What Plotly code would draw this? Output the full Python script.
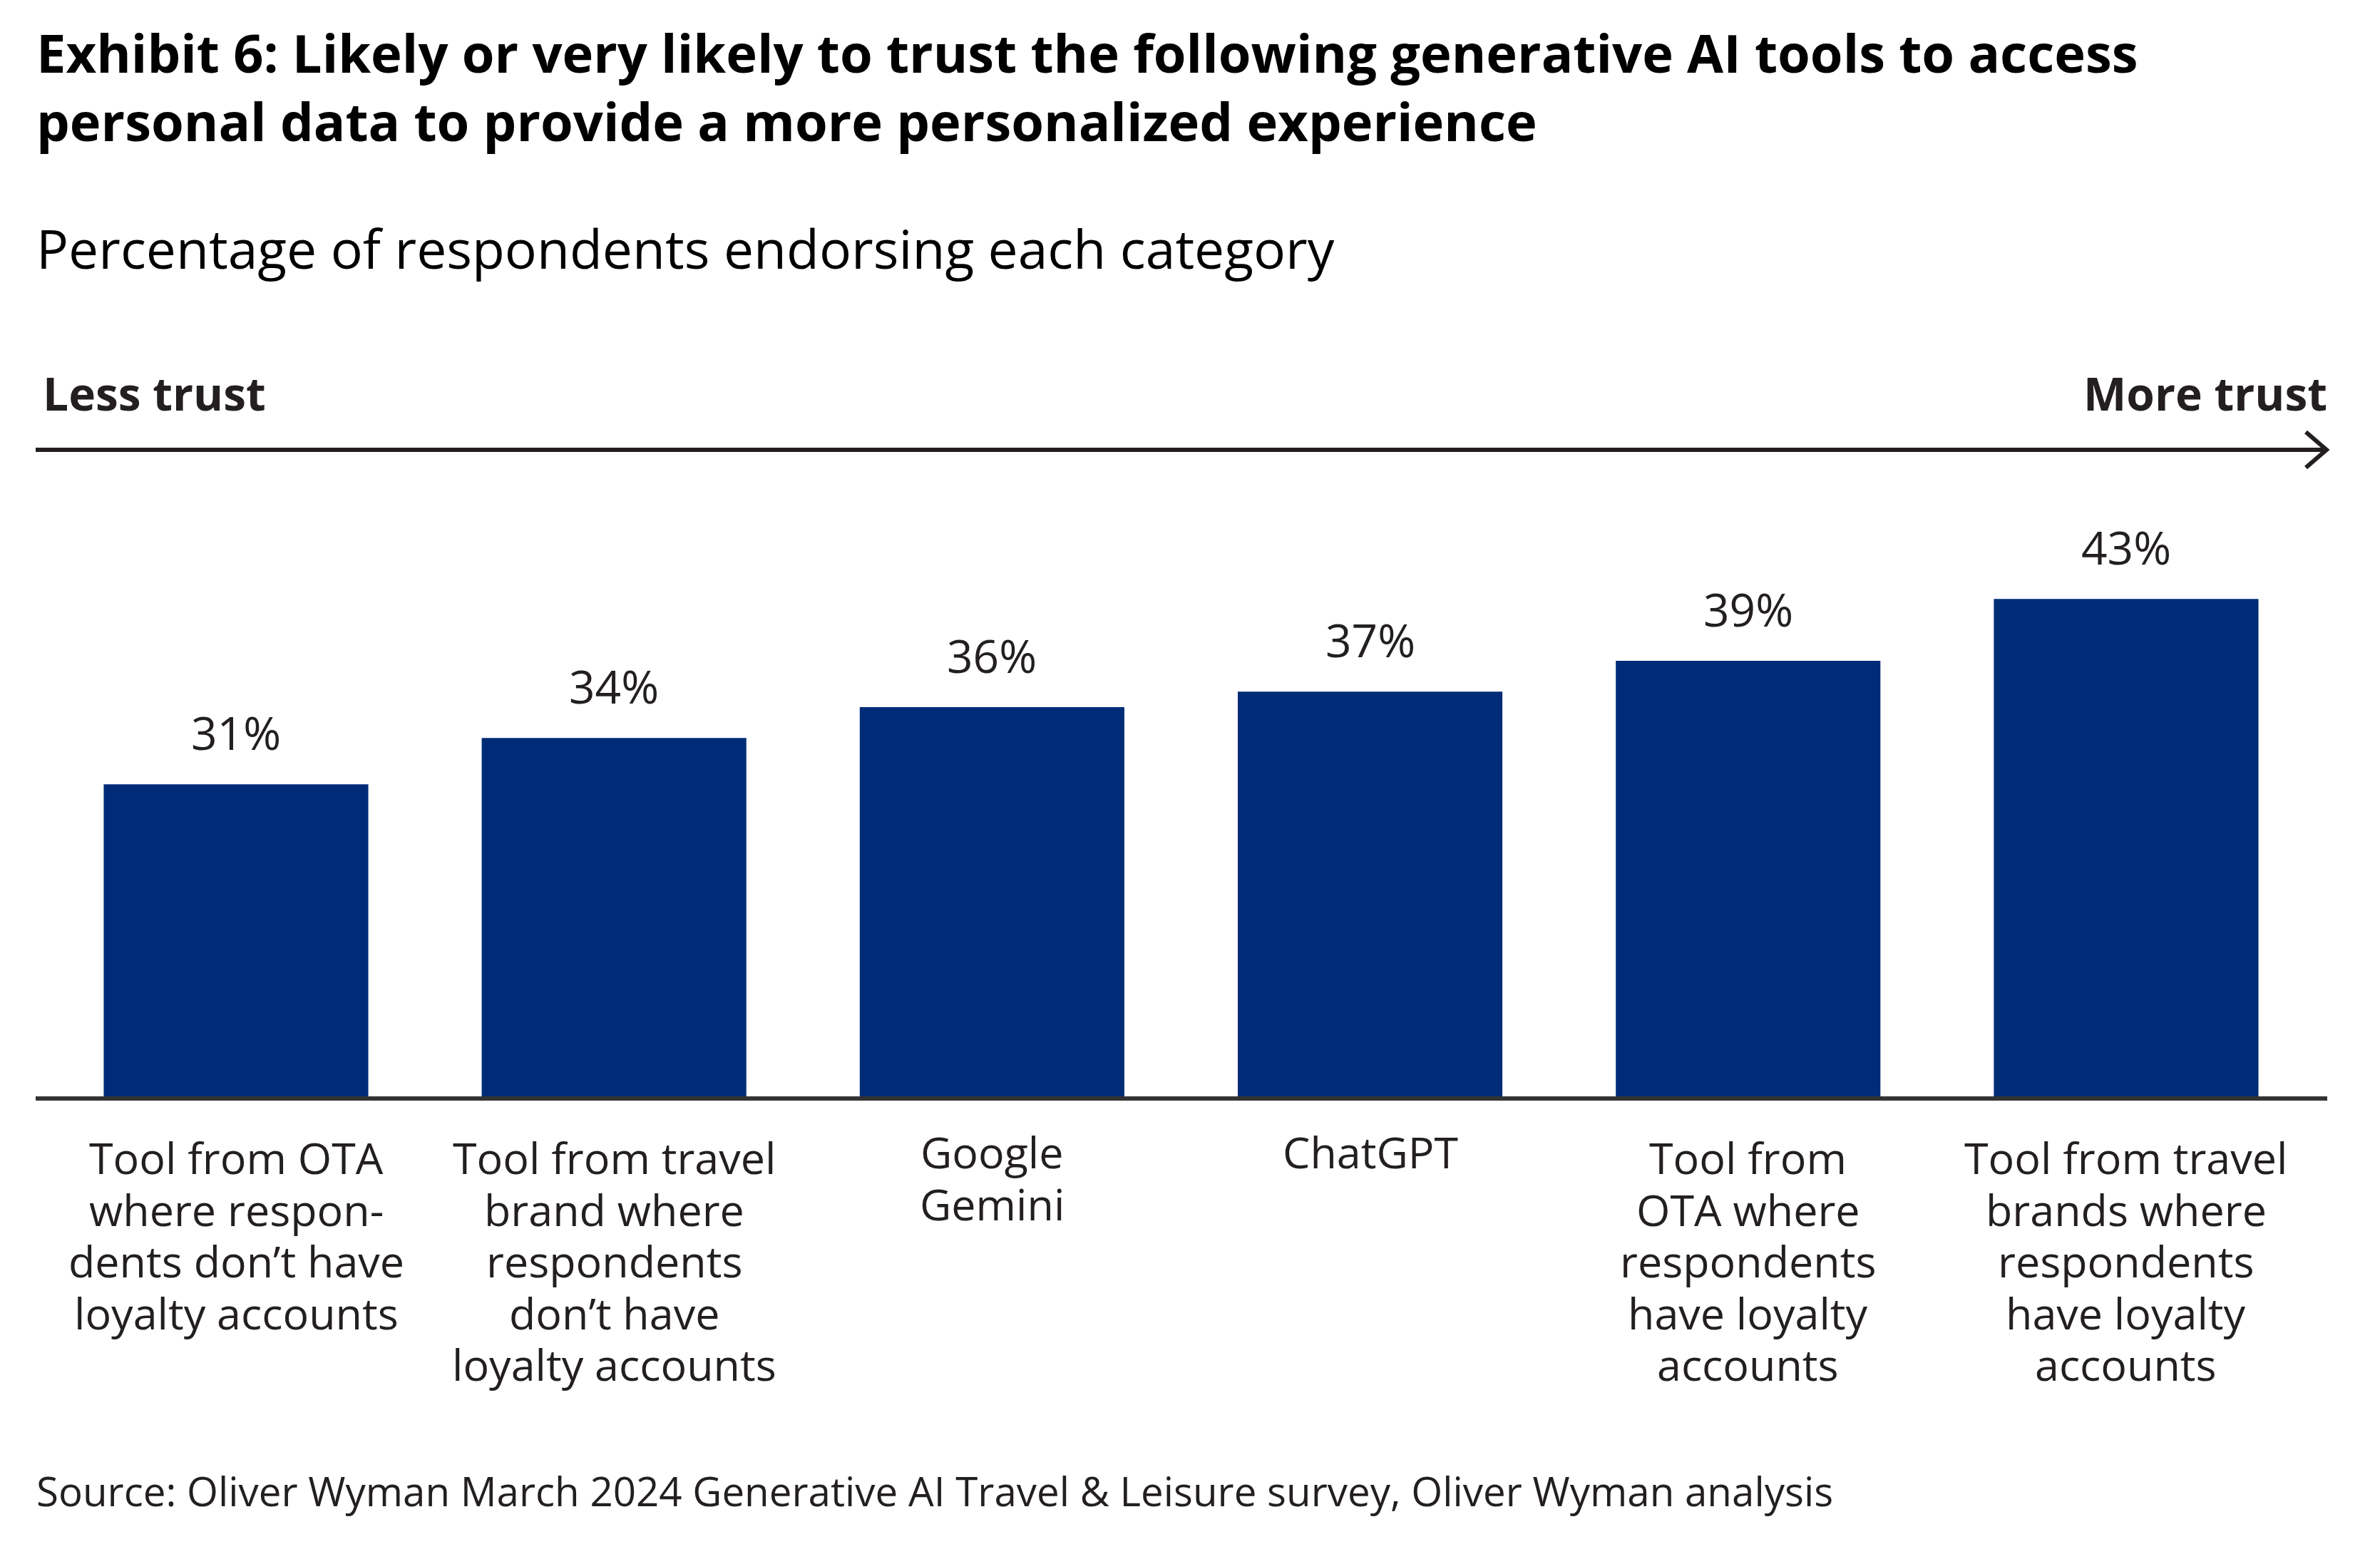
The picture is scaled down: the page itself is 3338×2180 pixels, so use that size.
import plotly.graph_objects as go

# page and plot-area geometry (pixels); the page body adds an 8px margin
OFF = 8
W, H = 3338, 2180
L, T = 50 - OFF, 700 - OFF
plot_w, plot_h = 3214, 838
R = W - L - plot_w
B = H - T - plot_h


def px(x):
    return (x - OFF - L) / plot_w


def py(y):
    return (T + plot_h - (y - OFF)) / plot_h


categories = [
    "Tool from OTA<br>where respon-<br>dents don’t have<br>loyalty accounts",
    "Tool from travel<br>brand where<br>respondents<br>don’t have<br>loyalty accounts",
    "Google<br>Gemini",
    "ChatGPT",
    "Tool from<br>OTA where<br>respondents<br>have loyalty<br>accounts",
    "Tool from travel<br>brands where<br>respondents<br>have loyalty<br>accounts",
]
values = [31, 34, 36, 37, 39, 43]
value_labels = [f"{v}%" for v in values]

title = ("Exhibit 6: Likely or very likely to trust the following generative AI tools to access<br>"
         "personal data to provide a more personalized experience")
subtitle = "Percentage of respondents endorsing each category"
source = "Source: Oliver Wyman March 2024 Generative AI Travel & Leisure survey, Oliver Wyman analysis"

navy = "#002C77"
ink = "#231F20"
font = "Open Sans"
# the short labels sit a little higher in the original
label_lift = [0, 0, 8, 8, 0, 0]

fig = go.Figure(go.Bar(x=categories, y=values, marker_color=navy, marker_line_width=0,
                       width=0.7, hoverinfo="skip"))

# value labels above bars
for c, v, t in zip(categories, values, value_labels):
    fig.add_annotation(x=c, y=v, text=t, showarrow=False, yanchor="bottom", yshift=27,
                       font=dict(family=font, size=64, color=ink))

# category labels under the baseline, one line at a time for tighter leading
for c, lift in zip(categories, label_lift):
    for i, line in enumerate(c.split("<br>")):
        fig.add_annotation(x=c, y=0, yref="paper", text=line, showarrow=False, yanchor="top",
                           yshift=-42 + lift - i * 72.5, font=dict(family=font, size=61, color=ink))

# titles and notes
fig.add_annotation(x=px(49), y=py(21), xref="paper", yref="paper", text=title, showarrow=False,
                   xanchor="left", yanchor="top", align="left",
                   font=dict(family=font, size=74, color="black", weight=700))
fig.add_annotation(x=px(49), y=py(295), xref="paper", yref="paper", text=subtitle, showarrow=False,
                   xanchor="left", yanchor="top", font=dict(family=font, size=75, color="black"))
fig.add_annotation(x=px(58), y=py(506), xref="paper", yref="paper", text="Less trust", showarrow=False,
                   xanchor="left", yanchor="top", font=dict(family=font, size=64, color=ink, weight=700))
fig.add_annotation(x=px(3266), y=py(506), xref="paper", yref="paper", text="More trust", showarrow=False,
                   xanchor="right", yanchor="top", font=dict(family=font, size=64, color=ink, weight=700))
fig.add_annotation(x=px(49), y=py(2051), xref="paper", yref="paper", text=source, showarrow=False,
                   xanchor="left", yanchor="top", font=dict(family=font, size=56.5, color=ink))

# trust arrow
fig.add_shape(type="line", xref="paper", yref="paper", x0=px(50), x1=px(3262), y0=py(631), y1=py(631),
              line=dict(color=ink, width=6))
fig.add_shape(type="path", xref="paper", yref="paper",
              path=f"M {px(3234)},{py(606)} L {px(3263)},{py(631)} L {px(3234)},{py(656)}",
              line=dict(color=ink, width=6))

fig.update_layout(
    width=W, height=H,
    margin=dict(l=L, r=R, t=T, b=B),
    paper_bgcolor="white", plot_bgcolor="white",
    showlegend=False,
    bargap=0.3,
    xaxis=dict(range=[-0.53, 5.532], showticklabels=False, showgrid=False, zeroline=False,
               showline=True, linecolor="#333333", linewidth=6, ticks=""),
    yaxis=dict(range=[10.8, 49.47], visible=False, fixedrange=True),
)

fig.write_html("out.html")
